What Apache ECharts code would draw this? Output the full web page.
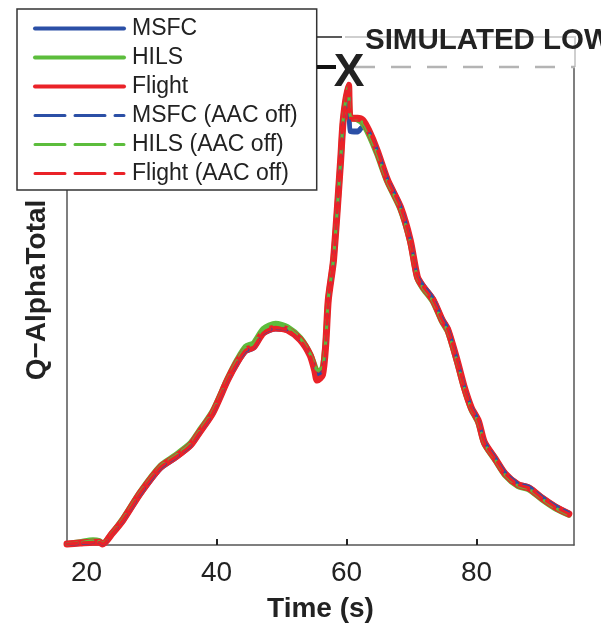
<!DOCTYPE html>
<html>
<head>
<meta charset="utf-8">
<script src="https://cdn.jsdelivr.net/npm/echarts@6/dist/echarts.min.js"></script>
<style>
html,body{margin:0;padding:0;background:#fff;}
#c{width:601px;height:623px;}
</style>
</head>
<body>
<div id="c"></div>
<script>
// ---- data ----
var timeS = [17, 19, 21, 22, 22.5, 24, 25.6, 28.3, 31.4, 33.7, 36, 37.3, 39.4, 41.7, 43.2, 44.5, 45.7, 47.2, 49.1, 50.9, 52.9, 54.4, 55.1, 55.5, 56.3, 56.8, 57.2, 58, 59.1, 59.5, 60.3, 60.6, 61.7, 62.5, 63.4, 64.7, 66.3, 68.3, 69.8, 70.9, 71.8, 73.3, 74.7, 75.6, 77, 78.1, 79.2, 80.3, 81.2, 82.9, 84.4, 86.4, 88.1, 90.1, 92.2, 94.2];

var msfc = [0.2, 0.3, 0.5, 0.5, 0.2, 2.4, 5.0, 10.6, 16.0, 18.2, 20.7, 23.2, 27.4, 34.3, 38.0, 40.5, 41.2, 44.2, 45.2, 44.9, 42.8, 39.6, 36.8, 35.2, 36.0, 42.0, 51.2, 59.5, 80.3, 88.5, 95.5, 86.5, 86.4, 87.5, 86.6, 82.7, 76.6, 70.9, 64.0, 56.3, 54.3, 51.6, 47.4, 45.3, 38.9, 33.3, 28.9, 26.1, 21.7, 18.2, 15.1, 12.8, 12.1, 10.0, 8.1, 6.7];
var hils = [0.2, 0.6, 1.0, 0.8, 0.3, 2.6, 5.5, 11.2, 16.6, 18.8, 21.3, 23.8, 28.0, 34.8, 38.8, 41.5, 42.2, 45.2, 46.3, 45.6, 43.3, 40.0, 37.5, 36.2, 37.0, 42.5, 51.5, 59.8, 80.5, 89.0, 96.0, 89.5, 89.0, 88.2, 86.0, 81.8, 75.9, 70.2, 63.4, 55.8, 53.6, 50.9, 46.7, 44.6, 38.3, 32.8, 28.4, 25.5, 21.2, 17.7, 14.6, 12.3, 11.6, 9.5, 7.6, 6.3];
var flight = [0.2, 0.4, 0.6, 0.6, 0.2, 2.5, 5.2, 10.9, 16.3, 18.4, 20.9, 23.4, 27.6, 34.5, 38.3, 40.8, 41.4, 44.4, 45.4, 45.0, 42.9, 39.7, 36.6, 34.5, 35.6, 41.8, 51.3, 59.6, 80.5, 88.9, 96.2, 89.3, 89.3, 88.9, 86.8, 82.6, 76.4, 70.7, 63.8, 56.1, 54.0, 51.3, 47.1, 45.0, 38.7, 33.1, 28.7, 25.9, 21.5, 18.0, 14.9, 12.6, 11.9, 9.8, 7.9, 6.5];
var msfcOff = [0.2, 0.3, 0.5, 0.5, 0.2, 2.5, 5.1, 10.7, 16.1, 18.3, 20.8, 23.3, 27.5, 34.4, 38.1, 40.6, 41.3, 44.3, 45.3, 45.0, 42.9, 39.8, 37.0, 35.6, 36.3, 42.2, 51.3, 59.6, 80.4, 88.7, 95.7, 87.0, 86.8, 87.8, 86.7, 82.8, 76.7, 71.0, 64.1, 56.4, 54.4, 51.7, 47.5, 45.4, 39.0, 33.4, 29.0, 26.2, 21.8, 18.3, 15.2, 12.9, 12.2, 10.1, 8.2, 6.8];
var hilsOff = [0.2, 0.5, 0.9, 0.7, 0.3, 2.6, 5.4, 11.1, 16.5, 18.7, 21.2, 23.7, 27.9, 34.7, 38.7, 41.4, 42.1, 45.1, 46.2, 45.5, 43.2, 40.0, 37.6, 36.5, 37.2, 42.6, 51.6, 59.9, 80.6, 89.1, 96.0, 89.6, 89.1, 88.3, 86.1, 81.9, 76.0, 70.3, 63.5, 55.9, 53.7, 51.0, 46.8, 44.7, 38.4, 32.9, 28.5, 25.6, 21.3, 17.8, 14.7, 12.4, 11.7, 9.6, 7.7, 6.3];
var flightOff = [0.2, 0.4, 0.6, 0.6, 0.2, 2.5, 5.2, 10.9, 16.3, 18.4, 20.9, 23.4, 27.6, 34.5, 38.3, 40.8, 41.4, 44.4, 45.4, 45.0, 42.9, 39.7, 36.7, 34.8, 35.8, 41.9, 51.3, 59.6, 80.5, 88.9, 96.1, 89.3, 89.3, 88.9, 86.8, 82.6, 76.4, 70.7, 63.8, 56.1, 54.0, 51.3, 47.1, 45.0, 38.7, 33.1, 28.7, 25.9, 21.5, 18.0, 14.9, 12.6, 11.9, 9.8, 7.9, 6.5];

var seriesNames = ['MSFC', 'HILS', 'Flight', 'MSFC (AAC off)', 'HILS (AAC off)', 'Flight (AAC off)'];
var xTickValues = [20, 40, 60, 80];
var xTitle = 'Time (s)';
var yTitle = 'Q\u2212AlphaTotal';
var noteText = 'SIMULATED LOW';

// ---- chart ----
var FONT = '"Liberation Sans", Arial, Helvetica, sans-serif';
var BLUE = '#2b4fa6', GREEN = '#5cbd3c', RED = '#ea2228';

function pairs(arr){ return timeS.map(function(t,i){ return [t, arr[i]]; }); }

function mk(name, arr, color, width, dashed){
  return {
    name: name, type: 'line', data: pairs(arr), symbol: 'none', smooth: 0.25,
    silent: true, animation: false,
    lineStyle: { color: color, width: width, type: dashed ? [10, 6] : 'solid', cap: 'round', join: 'round' },
    itemStyle: { color: color }
  };
}

var hiddenSym = { color: 'rgba(0,0,0,0)', borderWidth: 0, opacity: 0 };

var chart = echarts.init(document.getElementById('c'), null, {renderer: 'canvas'});

var option = {
  animation: false,
  backgroundColor: '#fff',
  grid: { left: 67, right: 27, top: 67, bottom: 78, containLabel: false, outerBoundsMode: 'none' },
  xAxis: {
    type: 'value', min: 17, max: 95,
    name: xTitle, nameLocation: 'middle', nameGap: 50,
    nameTextStyle: { fontFamily: FONT, fontSize: 28, fontWeight: 'bold', color: '#222', lineHeight: 28 },
    axisLine: { show: true, lineStyle: { color: '#555', width: 1.5 } },
    axisTick: { show: true, inside: true, length: 6, customValues: xTickValues, lineStyle: { color: '#222', width: 2 } },
    axisLabel: { customValues: xTickValues, margin: 14, fontFamily: FONT, fontSize: 28, color: '#222', lineHeight: 28 },
    splitLine: { show: false }
  },
  yAxis: [
    { type: 'value', min: 0, max: 100, position: 'left',
      axisLine: { show: true, lineStyle: { color: '#555', width: 1.5 } },
      axisTick: { show: false }, axisLabel: { show: false }, splitLine: { show: false } },
    { type: 'value', min: 0, max: 100, position: 'right',
      axisLine: { show: true, lineStyle: { color: '#555', width: 1.5 } },
      axisTick: { show: false }, axisLabel: { show: false }, splitLine: { show: false } }
  ],
  legend: {
    orient: 'vertical', left: 17, top: 9,
    padding: [8, 19, 5, 16],
    itemWidth: 89, itemHeight: 14, itemGap: 6,
    backgroundColor: '#fff', borderColor: '#333', borderWidth: 1.5, borderRadius: 0,
    textStyle: { fontFamily: FONT, fontSize: 23, color: '#222', lineHeight: 23, padding: [0, 0, 0, 3] },
    itemStyle: hiddenSym,
    z: 20,
    data: [
      { name: seriesNames[0], itemStyle: hiddenSym, lineStyle: { width: 4, type: 'solid' } },
      { name: seriesNames[1], itemStyle: hiddenSym, lineStyle: { width: 4, type: 'solid' } },
      { name: seriesNames[2], itemStyle: hiddenSym, lineStyle: { width: 4, type: 'solid' } },
      { name: seriesNames[3], itemStyle: hiddenSym, lineStyle: { width: 3, type: [30, 10] } },
      { name: seriesNames[4], itemStyle: hiddenSym, lineStyle: { width: 3, type: [30, 10] } },
      { name: seriesNames[5], itemStyle: hiddenSym, lineStyle: { width: 3, type: [30, 10] } }
    ]
  },
  series: [
    mk(seriesNames[0], msfc, BLUE, 5, false),
    mk(seriesNames[1], hils, GREEN, 6, false),
    mk(seriesNames[2], flight, RED, 7, false),
    mk(seriesNames[3], msfcOff, BLUE, 3, true),
    mk(seriesNames[4], hilsOff, GREEN, 3, true),
    mk(seriesNames[5], flightOff, RED, 3, true)
  ],
  graphic: [
    { type: 'text', x: 37, y: 290, rotation: Math.PI / 2, z: 30,
      style: { text: yTitle, font: 'bold 28px ' + FONT, fill: '#222', textAlign: 'center', textVerticalAlign: 'middle' } },
    { type: 'polyline', z: 5, shape: { points: [[345, 37], [575, 37], [575, 67]] },
      style: { stroke: '#cfcfcf', lineWidth: 2, fill: null } },
    { type: 'line', z: 25, shape: { x1: 317, y1: 37, x2: 342, y2: 37 }, style: { stroke: '#222', lineWidth: 1.5 } },
    { type: 'line', z: 25, shape: { x1: 317, y1: 67, x2: 336, y2: 67 }, style: { stroke: '#111', lineWidth: 4 } },
    { type: 'line', z: 5, shape: { x1: 355, y1: 67, x2: 575, y2: 67 },
      style: { stroke: '#b4b4b4', lineWidth: 2.5, lineDash: [20, 16] } },
    { type: 'text', x: 365, y: 41, z: 30,
      style: { text: noteText, font: 'bold 29.5px ' + FONT, fill: '#222', textAlign: 'left', textVerticalAlign: 'middle' } },
    { type: 'text', x: 349, y: 73, z: 30,
      style: { text: 'X', font: 'bold 46px ' + FONT, fill: '#222', textAlign: 'center', textVerticalAlign: 'middle' } }
  ]
};
chart.setOption(option);
</script>
</body>
</html>
